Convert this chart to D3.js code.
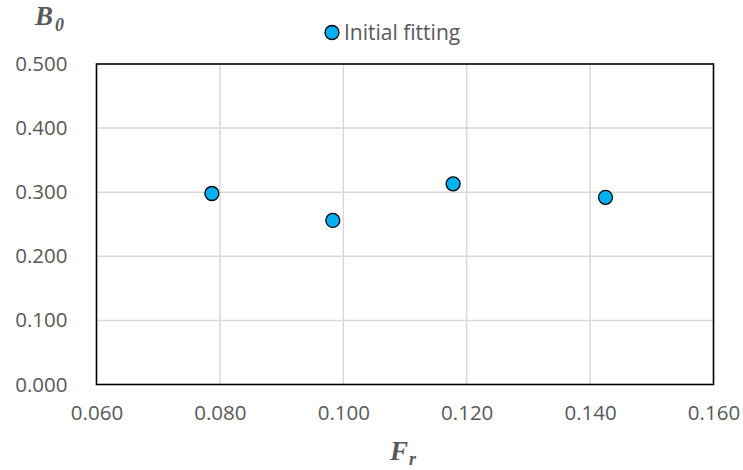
<!DOCTYPE html>
<html>
<head>
<meta charset="utf-8">
<script src="https://cdn.jsdelivr.net/npm/d3@7"></script>
<style>
  html, body { margin: 0; padding: 0; background: #fff; }
  svg { display: block; }
  .tick text { font-family: "Open Sans", sans-serif; font-size: 20.5px; fill: #595959; }
</style>
</head>
<body>
<svg id="chart" width="743" height="470"></svg>
<script>
// Froude number vs. fitted B0 coefficient
const seriesName = "Initial fitting";
const frValues = [0.0787, 0.0983, 0.1178, 0.1425];
const b0Values = [0.298, 0.256, 0.313, 0.292];
const xTicks = [0.06, 0.08, 0.10, 0.12, 0.14, 0.16];
const yTicks = [0.0, 0.1, 0.2, 0.3, 0.4, 0.5];

const W = 743, H = 470;
const margin = { left: 96.5, right: 29.5, top: 64, bottom: 85.5 };
const svg = d3.select("#chart");

const x = d3.scaleLinear().domain([0.06, 0.16]).range([margin.left, W - margin.right]);
const y = d3.scaleLinear().domain([0, 0.5]).range([H - margin.bottom, margin.top]);

const fmt = d3.format(".3f");

// grid
svg.append("g")
  .selectAll("line.vx")
  .data(xTicks.slice(1, -1))
  .join("line")
  .attr("x1", d => x(d)).attr("x2", d => x(d))
  .attr("y1", y(0)).attr("y2", y(0.5))
  .attr("stroke", "#d9d9d9").attr("stroke-width", 1.5);
svg.append("g")
  .selectAll("line.hy")
  .data(yTicks.slice(1, -1))
  .join("line")
  .attr("x1", x(0.06)).attr("x2", x(0.16))
  .attr("y1", d => y(d)).attr("y2", d => y(d))
  .attr("stroke", "#d9d9d9").attr("stroke-width", 1.5);

// axes (labels only; the frame is drawn separately)
const xAxis = svg.append("g")
  .attr("transform", `translate(0,${y(0)})`)
  .call(d3.axisBottom(x).tickValues(xTicks).tickFormat(fmt).tickSize(0).tickPadding(21));
xAxis.select(".domain").remove();

const yAxis = svg.append("g")
  .attr("transform", `translate(${x(0.06)},0)`)
  .call(d3.axisLeft(y).tickValues(yTicks).tickFormat(fmt).tickSize(0).tickPadding(29));
yAxis.select(".domain").remove();

// plot frame
svg.append("rect")
  .attr("x", x(0.06)).attr("y", y(0.5))
  .attr("width", x(0.16) - x(0.06)).attr("height", y(0) - y(0.5))
  .attr("fill", "none").attr("stroke", "#000").attr("stroke-width", 1.6);

// points
const pts = frValues.map((v, i) => ({ fr: v, b0: b0Values[i] }));
svg.append("g")
  .selectAll("circle")
  .data(pts)
  .join("circle")
  .attr("cx", d => x(d.fr))
  .attr("cy", d => y(d.b0))
  .attr("r", 7)
  .attr("fill", "#00b0f0")
  .attr("stroke", "#000")
  .attr("stroke-width", 1.3);

// legend
const lg = svg.append("g").attr("transform", "translate(332,32.5)");
lg.append("circle").attr("r", 7).attr("fill", "#00b0f0").attr("stroke", "#000").attr("stroke-width", 1.3);
lg.append("text").attr("x", 12).attr("y", 7.5)
  .attr("font-family", "'Open Sans', sans-serif").attr("font-size", 21).attr("fill", "#595959")
  .text(seriesName);

// axis titles
const titleFont = "'Liberation Serif', 'Times New Roman', serif";
const yt = svg.append("text").attr("x", 35).attr("y", 25)
  .attr("font-family", titleFont).attr("font-size", 27)
  .attr("font-weight", "bold").attr("font-style", "italic").attr("fill", "#595959");
yt.append("tspan").text("B");
yt.append("tspan").attr("font-size", 18).attr("dy", 6).attr("dx", 2).text("0");

const xt = svg.append("text").attr("x", 390).attr("y", 460)
  .attr("font-family", titleFont).attr("font-size", 27)
  .attr("font-weight", "bold").attr("font-style", "italic").attr("fill", "#595959");
xt.append("tspan").text("F");
xt.append("tspan").attr("font-size", 18).attr("dy", 5).attr("dx", 1).text("r");
</script>
</body>
</html>
